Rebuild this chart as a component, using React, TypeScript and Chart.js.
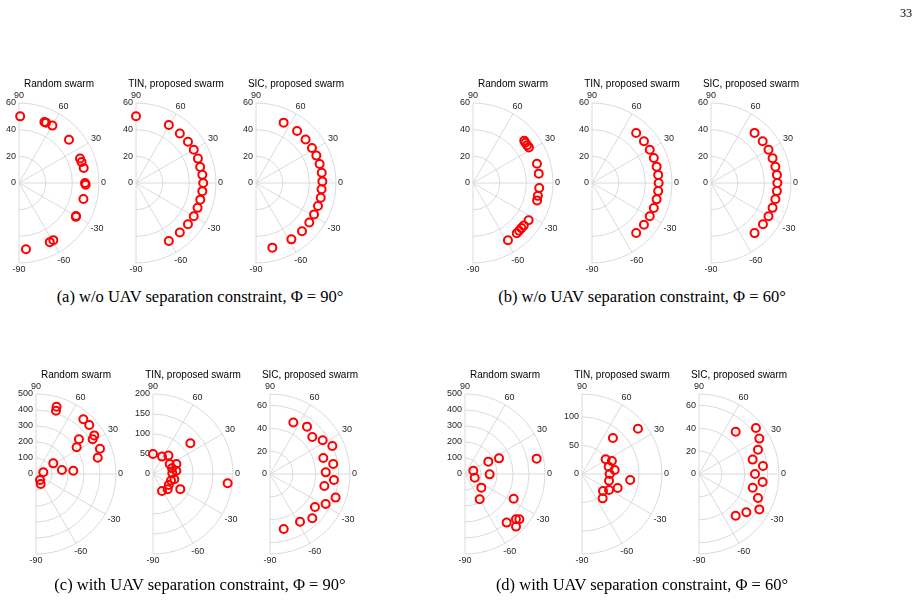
import React, { useEffect, useRef } from "react";
import { Chart, registerables } from "chart.js";
Chart.register(...registerables);

// ---- data: angle (deg) and radius of each UAV, per panel ----
const aRandTheta = [89, 67.4, 65.9, 59.8, 40.9, 21.8, 18.5, 13, 0, -1.4, -14, -30, -30.8, -59, -62.5, -84];
const aRandR = [50, 49.6, 49.6, 49.8, 49.6, 49.3, 49.5, 49.8, 49.5, 50, 49.8, 49.4, 49.6, 50, 50, 50];
const aTinTheta = [90, 60.5, 48.5, 38.5, 30, 21.5, 14, 7, 0, -7, -14.5, -22, -30, -38.5, -48.5, -60.5];
const aTinR = [50, 50, 49.6, 49.8, 50, 49.9, 49.6, 50.1, 50.4, 50.1, 49.8, 49.8, 50, 49.8, 49.6, 50];
const aSicTheta = [65.4, 51.7, 41.3, 32, 24.4, 16.6, 8.9, 1.4, -5.5, -12.8, -20.4, -28.4, -36.6, -46.4, -57.9, -75.8];
const aSicR = [49.8, 49.7, 49.5, 49.5, 49.7, 49.8, 49.9, 49.8, 49.4, 49.8, 49.6, 49.5, 49.8, 50, 49.9, 50];

const bRandTheta = [39.5, 37.5, 35, 32.5, 16.8, 8.1, -4.3, -11.2, -15.2, -33.8, -40, -43, -46, -49, -58.6];
const bRandR = [49.8, 49.5, 49.5, 49.7, 50.1, 49.8, 49.8, 49.6, 49.8, 50.2, 49.7, 49.6, 49.8, 50, 50.3];
const bTinTheta = [48.5, 38.8, 30, 22, 14.2, 7, 0, -7, -14.2, -22, -30, -38.8, -48.5];
const bTinR = [50, 50, 50, 50, 50, 50, 50, 50, 50, 50, 50, 50, 50];
const bSicTheta = [49, 38.9, 30, 22, 14.2, 7, 0, -7, -14.2, -22, -30, -38.5, -49];
const bSicR = [49.8, 49.8, 49.8, 49.8, 49.8, 49.8, 49.8, 49.8, 49.8, 49.8, 49.8, 49.8, 49.8];

const cRandTheta = [73, 72.5, 49.1, 42.6, 33.5, 31.5, 21.6, 14.8, 38.9, 33.3, 31.6, 8.7, 5.1, 12.8, -56, -65];
const cRandR = [440, 415, 452, 452, 437, 415, 430, 399, 345, 304, 127, 164, 234, 47, 45, 69];
const cTinTheta = [39.4, 90, 62.6, 50, 31, 23, 16.6, 8, 2, -14, -20, -35, -46, -62, -29, -7.1];
const cTinR = [121, 50, 49, 60, 48.6, 63.5, 49.6, 59, 48.3, 55, 48, 48, 53, 48, 78, 188];
const cSicTheta = [65.6, 52, 41.2, 32.6, 24.2, 16.7, 9, 1.7, -5.4, -12.5, -19.8, -28.3, -36.3, -46.3, -57.8, -76];
const cSicR = [49.4, 52.6, 49.2, 54.7, 59.8, 48.7, 56, 48.8, 56.2, 48.7, 61, 55.3, 48.8, 53.6, 49.3, 49.6];

const dRandTheta = [12.1, 24.7, 27.9, 21.8, -20.8, -0.8, -39.9, -59.9, -26.9, -39.8, -41.6, -49.4, -45.9];
const dRandR = [458, 234, 165, 56, 65, 154, 133, 183, 341, 442, 426, 400, 458];
const dTinTheta = [39, 49.3, 31.8, 23.4, 15.4, 7, 0, -7.1, -13.9, -21.4, -30.6, -39, -49.7];
const dTinR = [126, 83, 48.7, 57, 48.4, 57.6, 48.4, 85, 48.7, 67, 55, 47.3, 55.9];
const dSicTheta = [49.1, 38.9, 30.4, 22.4, 15, 7.1, 0, -7.2, -14.3, -22.1, -30.4, -39, -48.7];
const dSicR = [49, 64, 61.2, 55.8, 48.6, 56.4, 49, 56.1, 48.5, 55.7, 61.2, 53.3, 48.6];

// radial ticks
const ticks60 = [0, 20, 40, 60];
const ticks500 = [0, 100, 200, 300, 400, 500];
const ticks200 = [0, 50, 100, 150, 200];
const ticks140 = [0, 50, 100];
// angle ticks
const angleTicks = [90, 60, 30, 0, -30, -60, -90];

const titles = ["Random swarm", "TIN, proposed swarm", "SIC, proposed swarm"];

const captions = [
  "(a) w/o UAV separation constraint, \u03A6 = 90\u00B0",
  "(b) w/o UAV separation constraint, \u03A6 = 60\u00B0",
  "(c) with UAV separation constraint, \u03A6 = 90\u00B0",
  "(d) with UAV separation constraint, \u03A6 = 60\u00B0",
];

type Spec = {
  title: string;
  theta: number[];
  r: number[];
  rMax: number;
  ticks: number[];
  cx: number;
  cy: number;
};

const RAD = 80;
const PAD_L = 40;
const PAD_R = 44;
const PAD_T = 36;
const PAD_B = 22;
const CW = PAD_L + RAD + PAD_R;
const CH = PAD_T + 2 * RAD + PAD_B;

const SANS = "'Liberation Sans', Arial, Helvetica, sans-serif";

const specs: Spec[] = [
  { title: titles[0], theta: aRandTheta, r: aRandR, rMax: 60, ticks: ticks60, cx: 19, cy: 183 },
  { title: titles[1], theta: aTinTheta, r: aTinR, rMax: 60, ticks: ticks60, cx: 136, cy: 183 },
  { title: titles[2], theta: aSicTheta, r: aSicR, rMax: 60, ticks: ticks60, cx: 256, cy: 183 },
  { title: titles[0], theta: bRandTheta, r: bRandR, rMax: 60, ticks: ticks60, cx: 473, cy: 183 },
  { title: titles[1], theta: bTinTheta, r: bTinR, rMax: 60, ticks: ticks60, cx: 592, cy: 183 },
  { title: titles[2], theta: bSicTheta, r: bSicR, rMax: 60, ticks: ticks60, cx: 711, cy: 183 },
  { title: titles[0], theta: cRandTheta, r: cRandR, rMax: 500, ticks: ticks500, cx: 36, cy: 474 },
  { title: titles[1], theta: cTinTheta, r: cTinR, rMax: 200, ticks: ticks200, cx: 153, cy: 474 },
  { title: titles[2], theta: cSicTheta, r: cSicR, rMax: 70, ticks: ticks60, cx: 270, cy: 474 },
  { title: titles[0], theta: dRandTheta, r: dRandR, rMax: 500, ticks: ticks500, cx: 465, cy: 474 },
  { title: titles[1], theta: dTinTheta, r: dTinR, rMax: 140, ticks: ticks140, cx: 582, cy: 474 },
  { title: titles[2], theta: dSicTheta, r: dSicR, rMax: 70, ticks: ticks60, cx: 699, cy: 474 },
];

function Panel({ spec }: { spec: Spec }) {
  const ref = useRef<HTMLCanvasElement | null>(null);
  useEffect(() => {
    const canvas = ref.current;
    if (!canvas) return;
    const pts = spec.theta.map((t, i) => {
      const a = (t * Math.PI) / 180;
      return { x: spec.r[i] * Math.cos(a), y: spec.r[i] * Math.sin(a) };
    });
    const polarGrid = {
      id: "polarGrid",
      beforeDatasetsDraw(chart: any) {
        const { ctx } = chart;
        const xs = chart.scales.x;
        const ys = chart.scales.y;
        const cx = xs.getPixelForValue(0);
        const cy = ys.getPixelForValue(0);
        const rp = (v: number) => xs.getPixelForValue(v) - cx;
        const R = rp(spec.rMax);
        ctx.save();
        ctx.strokeStyle = "#dadada";
        ctx.lineWidth = 1;
        const rings = spec.ticks.filter((t) => t > 0 && t < spec.rMax);
        rings.push(spec.rMax);
        for (const t of rings) {
          ctx.beginPath();
          ctx.arc(cx, cy, rp(t), -Math.PI / 2, Math.PI / 2, false);
          ctx.stroke();
        }
        for (const a of angleTicks) {
          const ar = (a * Math.PI) / 180;
          ctx.beginPath();
          ctx.moveTo(cx, cy);
          ctx.lineTo(cx + R * Math.cos(ar), cy - R * Math.sin(ar));
          ctx.stroke();
        }
        // angle labels
        ctx.fillStyle = "#262626";
        ctx.font = `9px ${SANS}`;
        ctx.textAlign = "center";
        ctx.textBaseline = "middle";
        for (const a of angleTicks) {
          const ar = (a * Math.PI) / 180;
          const s = String(a);
          const w = ctx.measureText(s).width;
          const proj = Math.abs(Math.cos(ar)) * (w / 2) + Math.abs(Math.sin(ar)) * 5;
          const d = R + 2 + proj;
          ctx.fillText(s, cx + d * Math.cos(ar), cy - d * Math.sin(ar));
        }
        // radial labels
        ctx.textAlign = "right";
        for (const t of spec.ticks) {
          ctx.fillText(String(t), cx - 3, cy - rp(t));
        }
        // title
        ctx.fillStyle = "#000";
        ctx.font = `10px ${SANS}`;
        ctx.textAlign = "center";
        ctx.fillText(spec.title, cx + R / 2, cy - R - 19);
        ctx.restore();
      },
    };
    const chart = new Chart(canvas, {
      type: "scatter",
      data: {
        datasets: [
          {
            data: pts,
            pointStyle: "circle",
            pointRadius: 4,
            borderWidth: 2,
            borderColor: "#ff0000",
            backgroundColor: "rgba(0,0,0,0)",
            clip: false,
          } as any,
        ],
      },
      options: {
        animation: false,
        responsive: false,
        maintainAspectRatio: false,
        events: [],
        layout: { padding: { left: PAD_L, right: PAD_R, top: PAD_T, bottom: PAD_B } },
        scales: {
          x: { type: "linear", min: 0, max: spec.rMax, display: false },
          y: { type: "linear", min: -spec.rMax, max: spec.rMax, display: false },
        },
        plugins: { legend: { display: false }, tooltip: { enabled: false }, title: { display: false } },
      },
      plugins: [polarGrid],
    });
    return () => chart.destroy();
  }, [spec]);
  return (
    <canvas
      ref={ref}
      width={CW}
      height={CH}
      style={{
        position: "absolute",
        left: spec.cx - PAD_L,
        top: spec.cy - RAD - PAD_T,
        width: CW,
        height: CH,
      }}
    />
  );
}

const SERIF = "'Liberation Serif', 'Times New Roman', Times, serif";

export default function App() {
  const capPos = [
    { x: 200, y: 297 },
    { x: 642, y: 297 },
    { x: 200, y: 585 },
    { x: 642, y: 585 },
  ];
  return (
    <div
      style={{
        position: "absolute",
        left: 0,
        top: 0,
        width: 918,
        height: 605,
        overflow: "hidden",
        background: "#fff",
      }}
    >
      <div
        style={{
          position: "absolute",
          left: 880,
          width: 32,
          top: 6,
          textAlign: "right",
          fontFamily: SERIF,
          fontSize: 12,
          color: "#000",
          lineHeight: "14px",
        }}
      >
        33
      </div>
      {specs.map((s, i) => (
        <Panel key={i} spec={s} />
      ))}
      {captions.map((c, i) => (
        <div
          key={"c" + i}
          style={{
            position: "absolute",
            left: capPos[i].x - 200,
            width: 400,
            top: capPos[i].y - 10,
            height: 20,
            lineHeight: "20px",
            textAlign: "center",
            fontFamily: SERIF,
            fontSize: 16.5,
            color: "#000",
            whiteSpace: "nowrap",
          }}
        >
          {c}
        </div>
      ))}
    </div>
  );
}
